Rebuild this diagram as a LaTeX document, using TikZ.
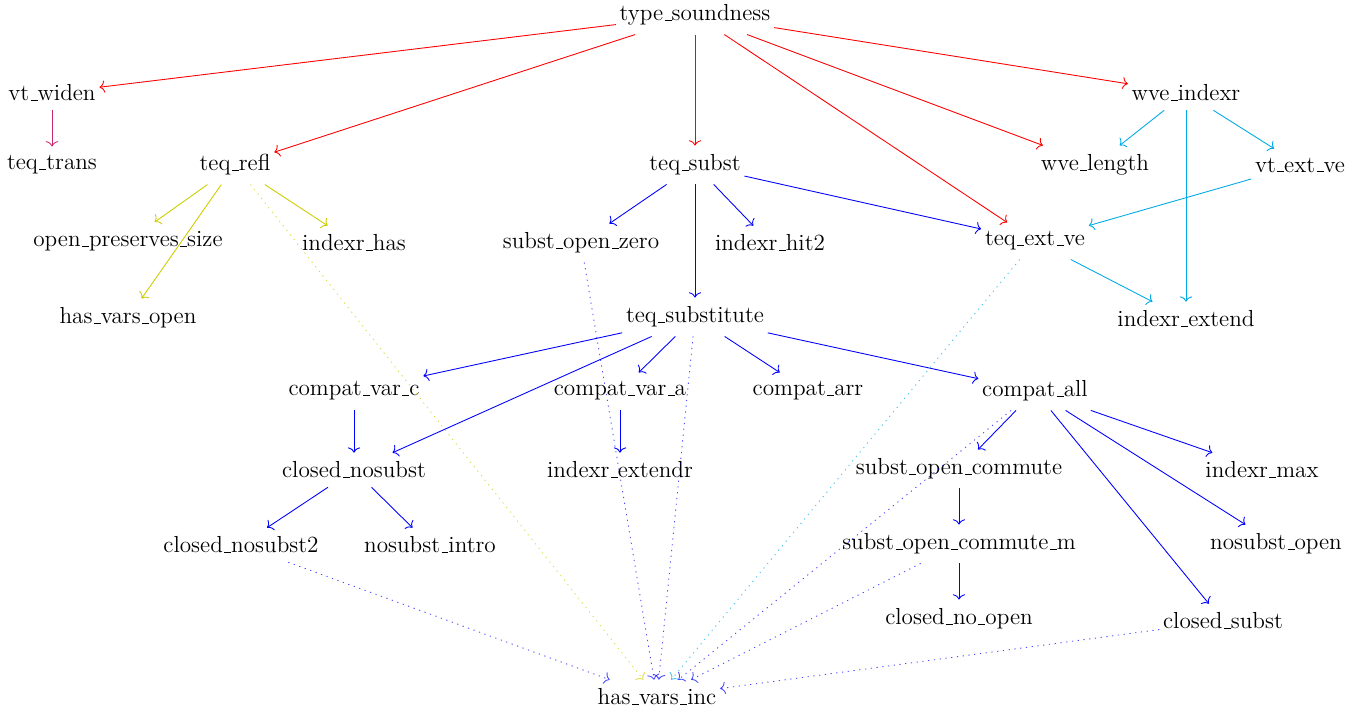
\documentclass[tikz,border=0pt]{standalone}
\usepackage{tikz}
\usetikzlibrary{arrows.meta}
\definecolor{tsRed}{HTML}{FF0000}
\definecolor{tsPlum}{HTML}{C8286E}
\definecolor{tsOlive}{HTML}{CCCC00}
\definecolor{tsBlue}{HTML}{0000FF}
\definecolor{tsCyan}{HTML}{00AAE6}
\newcommand\usc{\kern.06em\vbox{\hrule width.3em}}
\tikzset{
  >={To[length=3pt,width=7pt]},
  lem/.style={inner xsep=2pt, inner ysep=5pt, font=\fontsize{13.2}{16}\selectfont},
  dep/.style={->, line width=0.5pt},
  weak/.style={->, line width=0.5pt, dash pattern=on 0.7pt off 2.6pt, opacity=0.7},
}
\begin{document}
\begin{tikzpicture}[x=0.02cm,y=-0.02cm]
        \useasboundingbox (0,0) rectangle (1360,711);
        % row 0 / 1
        \node[lem] (ts) at (695,15){type\usc soundness};
        \node[lem] (vtw) at (52,93){vt\usc widen};
        \node[lem] (wvi) at (1186,93){wve\usc indexr};
        % row 2
        \node[lem] (teqt) at (52,165){teq\usc trans};
        \node[lem] (teqr) at (235,165){teq\usc refl};
        \node[lem] (teqs) at (695,165){teq\usc subst};
        \node[lem] (wvl) at (1095,165){wve\usc length};
        \node[lem] (vte) at (1300,165){vt\usc ext\usc ve};
        % row 3
        \node[lem] (ops) at (128,241){open\usc preserves\usc size};
        \node[lem] (ixh) at (354,243){indexr\usc has};
        \node[lem] (soz) at (581,243){subst\usc open\usc zero};
        \node[lem] (ixh2) at (770,243){indexr\usc hit2};
        \node[lem] (teqe) at (1035,241){teq\usc ext\usc ve};
        % row 4
        \node[lem] (hvo) at (128,318){has\usc vars\usc open};
        \node[lem] (teqsb) at (695,317){teq\usc substitute};
        \node[lem] (ixe) at (1186,319){indexr\usc extend};
        % row 5
        \node[lem] (cvc) at (354,391){compat\usc var\usc c};
        \node[lem] (cva) at (620,391){compat\usc var\usc a};
        \node[lem] (carr) at (808,391){compat\usc arr};
        \node[lem] (call) at (1035,391){compat\usc all};
        % row 6
        \node[lem] (cns) at (354,470){closed\usc nosubst};
        \node[lem] (ixer) at (620,470){indexr\usc extendr};
        \node[lem] (soc) at (959,469){subst\usc open\usc commute};
        \node[lem] (ixm) at (1262,470){indexr\usc max};
        % row 7
        \node[lem] (cns2) at (241,545){closed\usc nosubst2};
        \node[lem] (nsi) at (430,545){nosubst\usc intro};
        \node[lem] (socm) at (959,544){subst\usc open\usc commute\usc m};
        \node[lem] (nso) at (1276,544){nosubst\usc open};
        % row 8 / 9
        \node[lem] (cno) at (959,619){closed\usc no\usc open};
        \node[lem] (cs) at (1223,621){closed\usc subst};
        \node[lem] (hvi) at (657,697){has\usc vars\usc inc};
        % edges
        \draw[dep,tsRed](ts)--(vtw);\draw[dep,tsRed](ts)--(teqr);
        \draw[dep,tsRed](ts)--(teqs);\draw[dep,tsRed](ts)--(teqe);
        \draw[dep,tsRed](ts)--(wvl);\draw[dep,tsRed](ts)--(wvi);
        \draw[dep,tsPlum](vtw)--(teqt);
        \draw[dep,tsOlive](teqr)--(ops);\draw[dep,tsOlive](teqr)--(hvo);
        \draw[dep,tsOlive](teqr)--(ixh);
        \draw[dep,tsCyan](wvi)--(wvl);\draw[dep,tsCyan](wvi)--(vte);
        \draw[dep,tsCyan](wvi)--(ixe);\draw[dep,tsCyan](vte)--(teqe);
        \draw[dep,tsCyan](teqe)--(ixe);
        \draw[dep,tsBlue](teqs)--(soz);\draw[dep,tsBlue](teqs)--(teqsb);
        \draw[dep,tsBlue](teqs)--(ixh2);\draw[dep,tsBlue](teqs)--(teqe);
        \draw[dep,tsBlue](teqsb)--(cvc);\draw[dep,tsBlue](teqsb)--(cns);
        \draw[dep,tsBlue](teqsb)--(cva);\draw[dep,tsBlue](teqsb)--(carr);
        \draw[dep,tsBlue](teqsb)--(call);
        \draw[dep,tsBlue](cvc)--(cns);\draw[dep,tsBlue](cva)--(ixer);
        \draw[dep,tsBlue](cns)--(cns2);\draw[dep,tsBlue](cns)--(nsi);
        \draw[dep,tsBlue](call)--(soc);\draw[dep,tsBlue](call)--(ixm);
        \draw[dep,tsBlue](call)--(nso);\draw[dep,tsBlue](call)--(cs);
        \draw[dep,tsBlue](soc)--(socm);\draw[dep,tsBlue](socm)--(cno);
        % dotted edges into has_vars_inc
        \draw[weak,tsOlive](teqr)--(hvi);\draw[weak,tsCyan](teqe)--(hvi);
        \draw[weak,tsBlue](soz)--(hvi);\draw[weak,tsBlue](teqsb)--(hvi);
        \draw[weak,tsBlue](cns2)--(hvi);\draw[weak,tsBlue](call)--(hvi);
        \draw[weak,tsBlue](socm)--(hvi);\draw[weak,tsBlue](cs)--(hvi);
      \end{tikzpicture}
\end{document}
